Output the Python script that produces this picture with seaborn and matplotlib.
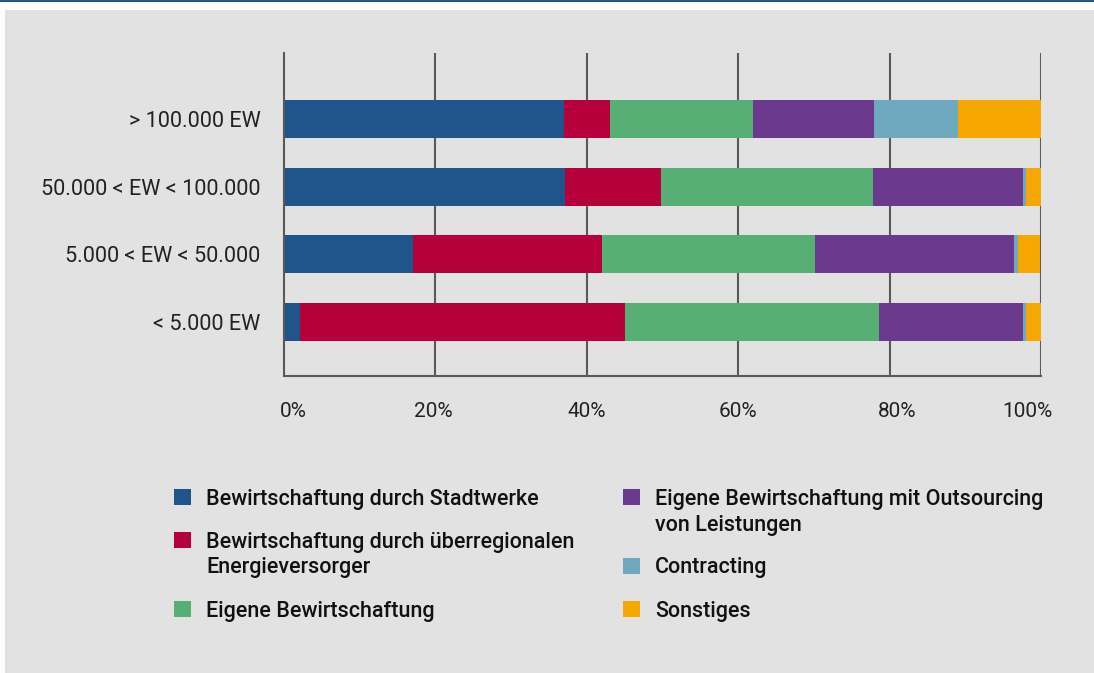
import matplotlib
matplotlib.use('Agg')
import matplotlib.pyplot as plt
import matplotlib.transforms as mtransforms
from matplotlib.patches import Rectangle
import numpy as np
import pandas as pd
import seaborn as sns

# Gemeindegroessen (von oben nach unten)
groups = ["> 100.000 EW", "50.000 < EW < 100.000", "5.000 < EW < 50.000", "< 5.000 EW"]

categories = [
    "Bewirtschaftung durch Stadtwerke",
    "Bewirtschaftung durch überregionalen\nEnergieversorger",
    "Eigene Bewirtschaftung",
    "Eigene Bewirtschaftung mit Outsourcing\nvon Leistungen",
    "Contracting",
    "Sonstiges",
]
colors = ["#1f558b", "#b5003b", "#58af76", "#6b398d", "#6fa9c0", "#f6a700"]

# Anteile in Prozent je Kategorie
stadtwerke = [37.0, 37.2, 17.1, 2.2]
ueberregional = [6.1, 12.7, 25.0, 42.9]
eigene = [18.9, 27.9, 28.0, 33.5]
outsourcing = [16.0, 19.8, 26.4, 19.0]
contracting = [11.0, 0.4, 0.5, 0.4]
sonstiges = [11.0, 2.0, 2.9, 2.0]

xticks = [0, 20, 40, 60, 80, 100]
xtick_labels = ["0%", "20%", "40%", "60%", "80%", "100%"]

W, H = 1094, 673
sns.set_theme(style="white")
plt.rcParams['font.family'] = ['Roboto', 'DejaVu Sans']

fig = plt.figure(figsize=(W / 100, H / 100), dpi=100)
fig.patch.set_facecolor("white")

# grauer Hintergrund + blaue Linie oben
fig.patches.append(Rectangle((5 / W, 0), 1, (H - 10) / H, transform=fig.transFigure,
                             facecolor="#e2e2e2", edgecolor="none", zorder=-10))
fig.patches.append(Rectangle((0, (H - 2) / H), 1, 2 / H, transform=fig.transFigure,
                             facecolor="#1f558b", edgecolor="none", zorder=-10))

left, right, top, bottom = 283.5, 1041, 53, 376
ax = fig.add_axes([left / W, (H - bottom) / H, (right - left) / W, (bottom - top) / H])
ax.set_facecolor("none")

df = pd.DataFrame({
    "group": groups,
    categories[0]: stadtwerke,
    categories[1]: ueberregional,
    categories[2]: eigene,
    categories[3]: outsourcing,
    categories[4]: contracting,
    categories[5]: sonstiges,
})
cum = df[categories].cumsum(axis=1)

# gestapelt: von hinten (Summe) nach vorne zeichnen
for i in range(len(categories) - 1, -1, -1):
    sns.barplot(x=cum[categories[i]], y=df["group"], color=colors[i], saturation=1,
                width=0.56, orient="h", ax=ax, zorder=2, linewidth=0, edgecolor="none")

ax.set_xlim(0, 100)
ax.set_ylim(3.8, -0.975)
ax.set_xlabel("")
ax.set_ylabel("")

ax.set_xticks(xticks)
ax.set_xticklabels(xtick_labels)
ax.grid(False)
for x in xticks[1:]:
    ax.axvline(x, color="#595959", lw=1.5, zorder=1)

for s in ["top", "right"]:
    ax.spines[s].set_visible(False)
for s in ["left", "bottom"]:
    ax.spines[s].set_color("#595959")
    ax.spines[s].set_linewidth(1.5)
    ax.spines[s].set_zorder(3)

ax.tick_params(axis="x", length=0, pad=19, labelsize=15, labelcolor="#222222")
ax.tick_params(axis="y", length=0, pad=16.5, labelsize=15.6, labelcolor="#222222")

# kleine Verschiebungen der x-Beschriftungen wie im Original
offsets = [10, -1.5, 0, 0, 8, -14]
for lab, dx in zip(ax.get_xticklabels(), offsets):
    lab.set_transform(lab.get_transform() + mtransforms.ScaledTranslation(dx / 100, 0, fig.dpi_scale_trans))

# Legende in zwei Spalten
cols = [(174, 206, categories[:3], colors[:3]), (623, 655, categories[3:], colors[3:])]
for mx, tx, names, cols_c in cols:
    y = 505
    for name, c in zip(names, cols_c):
        fig.patches.append(Rectangle((mx / W, (H - y) / H), 16.5 / W, 16 / H,
                                     transform=fig.transFigure, facecolor=c,
                                     edgecolor="none", zorder=3))
        lines = name.split("\n")
        for k, line in enumerate(lines):
            fig.text(tx / W, (H - y) / H, line, ha="left", va="baseline",
                     fontsize=15.5, fontweight="medium", color="#111111")
            if k < len(lines) - 1:
                y += 25.5
        y += 43

fig.savefig("out.png", dpi=100, facecolor=fig.get_facecolor())
